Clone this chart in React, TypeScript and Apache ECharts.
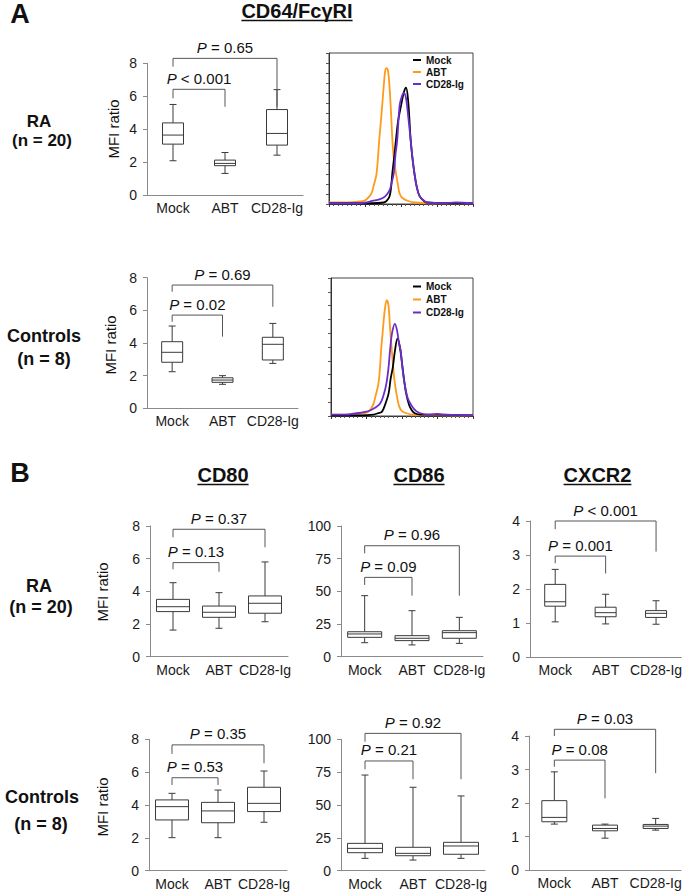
import React, { useEffect, useRef } from "react";
import * as echarts from "echarts";

const categories = ["Mock", "ABT", "CD28-Ig"];

// box statistics: [min, Q1, median, Q3, max] per category
const cd64RA = [[2.08, 3.09, 3.64, 4.38, 5.5], [1.31, 1.78, 1.92, 2.12, 2.58], [2.42, 3.03, 3.74, 5.19, 6.4]];
const cd64Ctrl = [[2.24, 2.82, 3.43, 4.08, 5.04], [1.47, 1.59, 1.73, 1.87, 2.0], [2.75, 2.96, 3.92, 4.35, 5.2]];
const cd80RA = [[1.63, 2.76, 3.06, 3.51, 4.53], [1.74, 2.41, 2.72, 3.1, 3.92], [2.14, 2.66, 3.27, 3.72, 5.8]];
const cd86RA = [[10.7, 14.8, 17.4, 19.1, 46.7], [9.0, 12.3, 14.1, 16.1, 35.2], [10.2, 14.1, 18.4, 19.9, 30.1]];
const cxcr2RA = [[1.04, 1.5, 1.63, 2.14, 2.58], [0.98, 1.19, 1.31, 1.47, 1.85], [0.97, 1.17, 1.29, 1.37, 1.66]];
const cd80Ctrl = [[2.01, 3.09, 3.9, 4.31, 4.71], [2.01, 2.92, 3.64, 4.16, 4.91], [2.95, 3.6, 4.1, 5.08, 6.07]];
const cd86Ctrl = [[9.4, 13.7, 17.0, 20.8, 72.8], [8.1, 11.4, 13.2, 17.8, 63.5], [9.4, 12.5, 18.8, 21.6, 56.9]];
const cxcr2Ctrl = [[1.37, 1.44, 1.57, 2.07, 2.93], [0.95, 1.17, 1.24, 1.34, 1.37], [1.19, 1.24, 1.31, 1.36, 1.54]];

// significance brackets: [fromCat, toCat, yTop, yLeftEnd, yRightEnd]
const cd64RABr = [[0, 2, 8.3, 7.8, 5.36], [0, 1, 6.42, 5.87, 5.36]];
const cd64RALab = ["P = 0.65", "P < 0.001"];
const cd64CtrlBr = [[0, 2, 7.55, 7.14, 6.22], [0, 1, 5.71, 5.3, 4.39]];
const cd64CtrlLab = ["P = 0.69", "P = 0.02"];
const cd80RABr = [[0, 2, 7.8, 7.31, 6.7], [0, 1, 5.76, 5.35, 5.2]];
const cd80RALab = ["P = 0.37", "P = 0.13"];
const cd86RABr = [[0, 2, 84.9, 79.1, 46.7], [0, 1, 60.7, 54.9, 46.7]];
const cd86RALab = ["P = 0.96", "P = 0.09"];
const cxcr2RABr = [[0, 2, 4.0, 3.76, 3.1], [0, 1, 2.97, 2.76, 2.46]];
const cxcr2RALab = ["P < 0.001", "P = 0.001"];
const cd80CtrlBr = [[0, 2, 7.66, 7.11, 6.54], [0, 1, 5.66, 5.22, 5.22]];
const cd80CtrlLab = ["P = 0.35", "P = 0.53"];
const cd86CtrlBr = [[0, 2, 104.5, 98.2, 69.6], [0, 1, 83.5, 77.2, 69.6]];
const cd86CtrlLab = ["P = 0.92", "P = 0.21"];
const cxcr2CtrlBr = [[0, 2, 4.2, 4.0, 2.89], [0, 1, 3.28, 3.08, 2.14]];
const cxcr2CtrlLab = ["P = 0.03", "P = 0.08"];

// histogram curves: [fluorescence position %, count % of frame]
const histNames = ["Mock", "ABT", "CD28-Ig"];
const raMock = [[0, 0.5], [30, 0.5], [38, 1], [40, 2], [42, 5], [43, 10], [44, 20.5], [45.5, 33], [46.5, 42.6], [48, 55], [50, 65], [52, 74], [53.5, 77], [55, 68], [56.7, 42.6], [58, 30], [59.3, 20.5], [61, 11], [63, 5], [66, 2], [68, 1], [80, 0.5], [100, 0.5]];
const raABT = [[0, 1], [10, 1], [20, 1.5], [24, 2], [26, 3], [28, 5], [29.5, 7], [31, 12], [33, 20], [34.9, 42.6], [36.5, 60], [38, 78], [39, 88], [40, 90], [41, 88], [42, 78], [43, 62], [44, 42.6], [45, 30], [46.5, 20.5], [48, 12], [49, 7], [51, 4], [55, 2], [60, 1], [70, 0.5], [100, 0.5]];
const raCD28 = [[0, 0.5], [20, 0.5], [26, 1], [30, 2], [35, 3], [39, 5], [42, 9], [43.5, 14], [45, 20.5], [46.2, 33], [47.4, 42.6], [49, 65], [50.5, 71], [52, 73.5], [53.5, 70], [55, 58], [56.7, 42.6], [58, 30], [59.3, 20.5], [61, 11], [63, 5], [66, 2], [68, 1], [80, 0.5], [88, 1], [100, 0.5]];
const ctrlMock = [[0, 0.5], [20, 0.5], [30, 1], [33, 2], [35.8, 3], [38, 8], [40.5, 16], [42, 27], [43.5, 35], [45, 47], [46.8, 56], [48.5, 50], [50.4, 35], [51.5, 26], [53, 16], [55, 8], [57, 4], [59, 2], [63, 1], [75, 1], [100, 0.5]];
const ctrlABT = [[0, 1], [15, 1], [20, 1.5], [23, 2], [26, 3], [28, 5], [30, 9], [31.5, 15], [33.4, 23.5], [34.5, 35], [35.3, 47.8], [36.5, 62], [38, 78], [39.3, 84], [40.5, 80], [41.5, 65], [42.8, 47.8], [44, 33], [45, 23.5], [46.5, 14], [48, 7], [50, 3.5], [53, 2], [58, 1], [100, 0.5]];
const ctrlCD28 = [[0, 1], [10, 1], [18, 2], [24, 3], [27.5, 4], [31, 6], [34.6, 9], [37, 15], [39, 23.5], [40.5, 35], [41.6, 47.8], [43, 60], [45, 66.7], [46.5, 62], [48, 52], [49, 47.8], [50.5, 33], [51.8, 23.5], [54, 13], [57, 7], [60, 3.5], [63, 2], [68, 1], [75, 1.5], [80, 1], [100, 0.5]];

const FONT = '"Liberation Sans", Arial, Helvetica, sans-serif';
const histColors = ["#000000", "#FF9A1A", "#6A2ECB"];

const boxPlots = [
  { stats: cd64RA, br: cd64RABr, lab: cd64RALab, max: 8, interval: 2, left: 147, top: 63.3, width: 156, height: 131.7, boxW: 21 },
  { stats: cd64Ctrl, br: cd64CtrlBr, lab: cd64CtrlLab, max: 8, interval: 2, left: 147, top: 277.7, width: 151, height: 130.6, boxW: 21 },
  { stats: cd80RA, br: cd80RABr, lab: cd80RALab, max: 8, interval: 2, left: 150, top: 526, width: 138, height: 130.7, boxW: 33 },
  { stats: cd86RA, br: cd86RABr, lab: cd86RALab, max: 100, interval: 25, left: 341, top: 526, width: 142, height: 130.7, boxW: 34 },
  { stats: cxcr2RA, br: cxcr2RABr, lab: cxcr2RALab, max: 4, interval: 1, left: 530, top: 521, width: 152, height: 136.3, boxW: 21 },
  { stats: cd80Ctrl, br: cd80CtrlBr, lab: cd80CtrlLab, max: 8, interval: 2, left: 149, top: 739.3, width: 138, height: 131.4, boxW: 33 },
  { stats: cd86Ctrl, br: cd86CtrlBr, lab: cd86CtrlLab, max: 100, interval: 25, left: 341, top: 739.3, width: 144, height: 131.4, boxW: 35 },
  { stats: cxcr2Ctrl, br: cxcr2CtrlBr, lab: cxcr2CtrlLab, max: 4, interval: 1, left: 529, top: 736, width: 152, height: 134, boxW: 25 },
];

const histPlots = [
  { curves: [raMock, raABT, raCD28], left: 329, top: 53, width: 144, height: 151, ticks: 15, legendTop: 54, legendGap: 0 },
  { curves: [ctrlMock, ctrlABT, ctrlCD28], left: 331, top: 278, width: 142, height: 138, ticks: 10, legendTop: 280.5, legendGap: 1 },
];

function boxRender(boxW: number) {
  return (params: any, api: any) => {
    const x = api.value(0);
    const pMin = api.coord([x, api.value(1)]);
    const pQ1 = api.coord([x, api.value(2)]);
    const pMed = api.coord([x, api.value(3)]);
    const pQ3 = api.coord([x, api.value(4)]);
    const pMax = api.coord([x, api.value(5)]);
    const cx = pMed[0];
    const hw = boxW / 2;
    const cap = 3.5;
    const st = { stroke: "#3a3a3a", lineWidth: 1, fill: null };
    return {
      type: "group",
      children: [
        { type: "line", shape: { x1: cx, y1: pMax[1], x2: cx, y2: pQ3[1] }, style: st },
        { type: "line", shape: { x1: cx, y1: pQ1[1], x2: cx, y2: pMin[1] }, style: st },
        { type: "line", shape: { x1: cx - cap, y1: pMax[1], x2: cx + cap, y2: pMax[1] }, style: st },
        { type: "line", shape: { x1: cx - cap, y1: pMin[1], x2: cx + cap, y2: pMin[1] }, style: st },
        { type: "rect", shape: { x: cx - hw, y: pQ3[1], width: boxW, height: pQ1[1] - pQ3[1] }, style: { stroke: "#3a3a3a", lineWidth: 1, fill: "#fff" } },
        { type: "line", shape: { x1: cx - hw, y1: pMed[1], x2: cx + hw, y2: pMed[1] }, style: st },
      ],
    };
  };
}

function bracketRender(labels: string[]) {
  return (params: any, api: any) => {
    const a = api.value(0);
    const b = api.value(1);
    const pA = api.coord([a, api.value(2)]);
    const pB = api.coord([b, api.value(2)]);
    const pL = api.coord([a, api.value(3)]);
    const pR = api.coord([b, api.value(4)]);
    const st = { stroke: "#555", lineWidth: 1, fill: null };
    const label = labels[params.dataIndex];
    const rest = label.slice(1);
    return {
      type: "group",
      children: [
        { type: "polyline", shape: { points: [[pL[0], pL[1]], [pA[0], pA[1]], [pB[0], pB[1]], [pR[0], pR[1]]] }, style: st },
        {
          type: "text",
          x: (pA[0] + pB[0]) / 2,
          y: pA[1] - 11,
          style: {
            text: "{i|P}{n|" + rest + "}",
            align: "center",
            verticalAlign: "middle",
            textAlign: "center",
            textVerticalAlign: "middle",
            rich: {
              i: { fontStyle: "italic", fontSize: 15, fontFamily: FONT, fill: "#111", color: "#111" },
              n: { fontSize: 15, fontFamily: FONT, fill: "#111", color: "#111" },
            },
          },
        },
      ],
    };
  };
}

function textEl(text: string, x: number, y: number, font: string, extra: any = {}) {
  return {
    type: "text",
    x,
    y,
    ...extra,
    style: { text, font, fill: "#111", align: "center", verticalAlign: "middle", textAlign: "center", textVerticalAlign: "middle" },
  };
}

export default function App() {
  const ref = useRef<HTMLDivElement>(null);
  useEffect(() => {
    if (!ref.current) return;
    const chart = echarts.init(ref.current, null, { renderer: "svg" });

    const grid: any[] = [];
    const xAxis: any[] = [];
    const yAxis: any[] = [];
    const series: any[] = [];

    boxPlots.forEach((p, gi) => {
      grid.push({ left: p.left, top: p.top, width: p.width, height: p.height, containLabel: false });
      xAxis.push({
        type: "category",
        gridIndex: gi,
        data: categories,
        boundaryGap: true,
        axisLine: { show: true, lineStyle: { color: "#8a8a8a", width: 1 } },
        axisTick: { show: false },
        axisLabel: { interval: 0, fontSize: 14, fontFamily: FONT, color: "#1a1a1a", margin: 6 },
        splitLine: { show: false },
      });
      yAxis.push({
        type: "value",
        gridIndex: gi,
        min: 0,
        max: p.max,
        interval: p.interval,
        axisLine: { show: true, lineStyle: { color: "#8a8a8a", width: 1 } },
        axisTick: { show: true, length: 4, lineStyle: { color: "#8a8a8a" } },
        axisLabel: { fontSize: 14, fontFamily: FONT, color: "#1a1a1a", margin: 10 },
        splitLine: { show: false },
      });
      series.push({
        type: "custom",
        xAxisIndex: gi,
        yAxisIndex: gi,
        renderItem: boxRender(p.boxW),
        encode: { x: 0, y: [1, 2, 3, 4, 5] },
        data: p.stats.map((s, i) => [i, ...s]),
        silent: true,
        clip: false,
      });
      series.push({
        type: "custom",
        xAxisIndex: gi,
        yAxisIndex: gi,
        renderItem: bracketRender(p.lab),
        encode: { x: [0, 1], y: [2, 3, 4] },
        data: p.br,
        silent: true,
        clip: false,
      });
    });

    const legends: any[] = [];
    histPlots.forEach((h, hi) => {
      const gi = boxPlots.length + hi;
      grid.push({ left: h.left, top: h.top, width: h.width, height: h.height, show: true, borderColor: "#444", borderWidth: 1, backgroundColor: "transparent" });
      xAxis.push({
        type: "value",
        gridIndex: gi,
        min: 0,
        max: 100,
        interval: 25,
        axisLine: { show: true, lineStyle: { color: "#333" } },
        axisTick: { show: true, length: 3, lineStyle: { color: "#333" } },
        minorTick: { show: true, splitNumber: 8, length: 2, lineStyle: { color: "#555" } },
        axisLabel: { show: false },
        splitLine: { show: false },
      });
      yAxis.push({
        type: "value",
        gridIndex: gi,
        min: 0,
        max: 100,
        interval: 100 / h.ticks,
        axisLine: { show: true, lineStyle: { color: "#333" } },
        axisTick: { show: true, length: 3, lineStyle: { color: "#555" } },
        axisLabel: { show: false },
        splitLine: { show: false },
      });
      const order = [1, 0, 2];
      order.forEach((ci) => {
        series.push({
          type: "line",
          name: histNames[ci],
          xAxisIndex: gi,
          yAxisIndex: gi,
          data: h.curves[ci],
          showSymbol: false,
          smooth: 0.35,
          lineStyle: { color: histColors[ci], width: 1.8 },
          itemStyle: { color: histColors[ci] },
          silent: true,
        });
      });
      legends.push({
        orient: "vertical",
        left: 413,
        top: h.legendTop,
        data: histNames,
        icon: "rect",
        itemWidth: 8,
        itemHeight: 2,
        itemGap: h.legendGap,
        padding: 0,
        selectedMode: false,
        textStyle: { fontSize: 10, fontWeight: "bold", fontFamily: FONT, color: "#111", lineHeight: 12 },
      });
    });

    // titles with underline
    const canvas = document.createElement("canvas");
    const ctx = canvas.getContext("2d") as CanvasRenderingContext2D;
    const titleFont = "bold 20px " + FONT;
    ctx.font = titleFont;
    const titles = [
      { t: "CD64/FcγRI", x: 297, y: 11 },
      { t: "CD80", x: 223, y: 475 },
      { t: "CD86", x: 419, y: 475 },
      { t: "CXCR2", x: 597.5, y: 475 },
    ];
    const graphic: any[] = [];
    titles.forEach((tt) => {
      const w = ctx.measureText(tt.t).width;
      graphic.push(textEl(tt.t, tt.x, tt.y, titleFont));
      graphic.push({ type: "line", shape: { x1: tt.x - w / 2, y1: tt.y + 9.5, x2: tt.x + w / 2, y2: tt.y + 9.5 }, style: { stroke: "#111", lineWidth: 1.3 } });
    });
    graphic.push(textEl("A", 20, 14, "bold 27px " + FONT));
    graphic.push(textEl("B", 20, 473, "bold 27px " + FONT));
    const rowFont = "bold 18px " + FONT;
    const rowFontSm = "bold 17px " + FONT;
    graphic.push(textEl("RA", 39, 121, rowFontSm));
    graphic.push(textEl("(n = 20)", 42, 140.5, rowFontSm));
    graphic.push(textEl("Controls", 44, 336, rowFont));
    graphic.push(textEl("(n = 8)", 44, 359, rowFont));
    graphic.push(textEl("RA", 39, 586, rowFont));
    graphic.push(textEl("(n = 20)", 41, 607, rowFont));
    graphic.push(textEl("Controls", 42, 797, rowFont));
    graphic.push(textEl("(n = 8)", 41, 824, rowFont));
    const yNameFont = "15px " + FONT;
    [[113, 129], [110, 345], [102, 592], [102, 807]].forEach(([x, y]) => {
      graphic.push(textEl("MFI ratio", x, y, yNameFont, { rotation: Math.PI / 2 }));
    });

    chart.setOption({
      animation: false,
      backgroundColor: "#fff",
      grid,
      xAxis,
      yAxis,
      series,
      legend: legends,
      graphic,
    });
    return () => chart.dispose();
  }, []);
  return <div ref={ref} style={{ position: "absolute", left: 0, top: 0, width: 685, height: 893, background: "#fff" }} />;
}
